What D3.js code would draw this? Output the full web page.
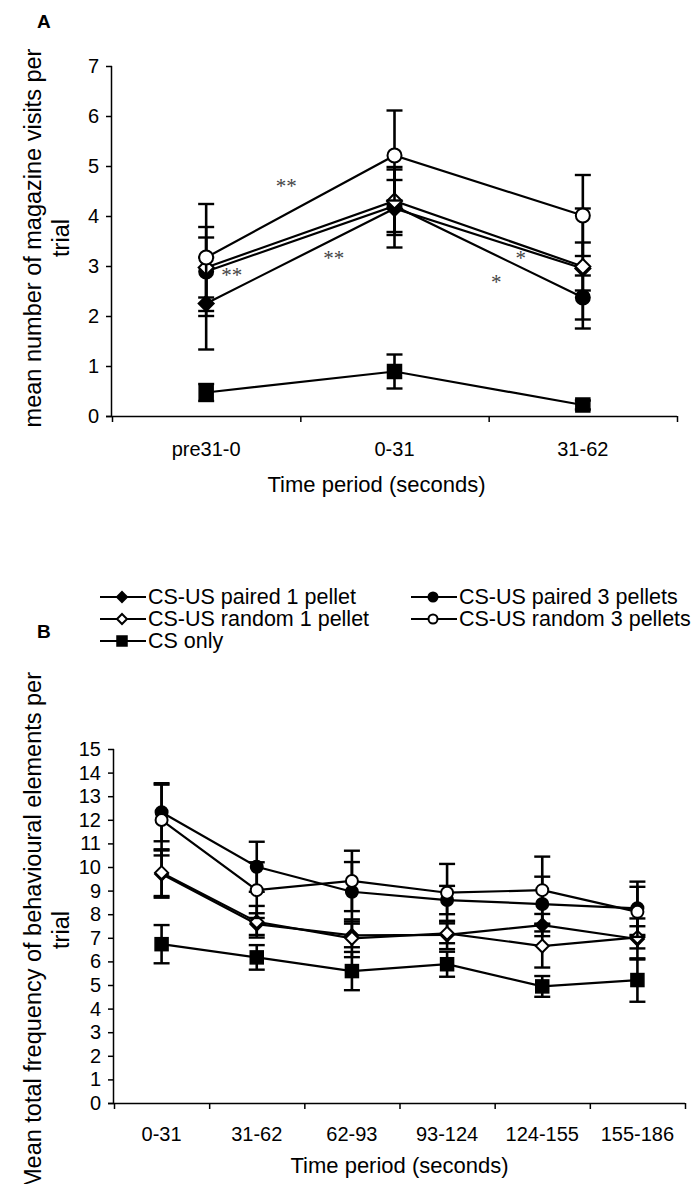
<!DOCTYPE html>
<html>
<head>
<meta charset="utf-8">
<script src="https://cdn.jsdelivr.net/npm/d3@7"></script>
<style>
  body { margin: 0; background: #fff; }
  svg { display: block; }
  text { font-family: "Liberation Sans", Arial, sans-serif; fill: #000; }
</style>
</head>
<body>
<svg id="fig" width="693" height="1184"></svg>
<script>
// ---- Data -------------------------------------------------------------
const seriesNames = [
  "CS-US paired 1 pellet",
  "CS-US paired 3 pellets",
  "CS-US random 1 pellet",
  "CS-US random 3 pellets",
  "CS only"
];

// Panel A: magazine visits per trial
const periodsA = ["pre31-0", "0-31", "31-62"];
const ticksA = [0, 1, 2, 3, 4, 5, 6, 7];
const pairedOneA   = [2.25, 4.15, 2.95];
const pairedOneSemA   = [0.92, 0.78, 1.20];
const pairedThreeA = [2.89, 4.20, 2.37];
const pairedThreeSemA = [0.89, 0.52, 0.44];
const randomOneA   = [2.97, 4.30, 2.99];
const randomOneSemA   = [0.60, 0.68, 0.48];
const randomThreeA = [3.17, 5.21, 4.01];
const randomThreeSemA = [1.07, 0.90, 0.81];
const csOnlyA      = [0.47, 0.89, 0.22];
const csOnlySemA      = [0.17, 0.34, 0.09];

// Significance marks: [position along the period axis (index), value, text]
const starsA = [
  [0.425, 4.65, "**"],
  [0.136, 2.87, "**"],
  [0.678, 3.20, "**"],
  [1.67, 3.20, "*"],
  [1.54, 2.72, "*"]
];

// Panel B: behavioural elements per trial
const periodsB = ["0-31", "31-62", "62-93", "93-124", "124-155", "155-186"];
const ticksB = d3.range(0, 16);
const pairedOneB   = [9.70, 7.58, 7.10, 7.12, 7.54, 6.95];
const pairedOneSemB   = [1.00, 0.46, 0.50, 0.60, 0.47, 0.87];
const pairedThreeB = [12.32, 10.01, 8.95, 8.60, 8.43, 8.25];
const pairedThreeSemB = [1.23, 1.06, 1.26, 0.60, 1.16, 1.13];
const randomOneB   = [9.76, 7.68, 6.98, 7.19, 6.65, 7.02];
const randomOneSemB   = [0.99, 0.67, 0.80, 0.42, 0.91, 0.47];
const randomThreeB = [11.99, 9.02, 9.41, 8.91, 9.02, 8.10];
const randomThreeSemB = [1.50, 1.18, 1.28, 1.22, 1.42, 1.06];
const csOnlyB      = [6.73, 6.17, 5.59, 5.88, 4.94, 5.21];
const csOnlySemB      = [0.81, 0.52, 0.81, 0.53, 0.44, 0.92];

// ---- Styling of each series --------------------------------------------
const shapes = ["diamond", "circle", "diamond", "circle", "square"];
const fills  = ["#000", "#000", "#fff", "#fff", "#000"];

const svg = d3.select("#fig");

function drawMarker(g, shape, fill, cx, cy, size) {
  if (shape === "circle") {
    g.append("circle").attr("cx", cx).attr("cy", cy).attr("r", size)
      .attr("fill", fill).attr("stroke", "#000").attr("stroke-width", 2);
  } else if (shape === "square") {
    g.append("rect").attr("x", cx - size).attr("y", cy - size)
      .attr("width", size * 2).attr("height", size * 2)
      .attr("fill", fill).attr("stroke", "#000").attr("stroke-width", 1.5);
  } else {
    const s = size + 0.5;
    g.append("path")
      .attr("d", `M${cx},${cy - s}L${cx + s},${cy}L${cx},${cy + s}L${cx - s},${cy}Z`)
      .attr("fill", fill).attr("stroke", "#000").attr("stroke-width", 2);
  }
}

function drawPanel(cfg) {
  const g = svg.append("g");
  const x = d3.scaleBand().domain(cfg.periods).range([cfg.left, cfg.right]).padding(0);
  const xEdges = d3.scaleLinear().domain([0, cfg.periods.length]).range([cfg.left, cfg.right]);
  const y = d3.scaleLinear().domain([0, d3.max(cfg.ticks)]).range([cfg.bottom, cfg.top]);
  const cx = p => x(p) + x.bandwidth() / 2;

  // y axis
  const yAxis = g.append("g").attr("transform", `translate(${cfg.left},0)`)
    .call(d3.axisLeft(y).tickValues(cfg.ticks).tickSize(6).tickPadding(7).tickFormat(d3.format("d")));
  yAxis.select(".domain").attr("stroke-width", 1.5).attr("d", `M-0.5,${cfg.top}V${cfg.bottom}`);
  yAxis.selectAll(".tick line").attr("stroke-width", 1.5);
  yAxis.selectAll(".tick text").style("font-size", cfg.tickFont + "px")
    .style("font-family", '"Liberation Sans", Arial, sans-serif');

  // x axis: tick marks on the category boundaries, labels at centres
  const xAxis = g.append("g").attr("transform", `translate(0,${cfg.bottom})`)
    .call(d3.axisBottom(xEdges).tickValues(d3.range(0, cfg.periods.length + 1)).tickSize(6).tickFormat(""));
  xAxis.select(".domain").attr("stroke-width", 1.5).attr("d", `M${cfg.left - 6},0.5H${cfg.right}`);
  xAxis.selectAll(".tick line").attr("stroke-width", 1.5);
  g.append("g").selectAll("text").data(cfg.periods).join("text")
    .attr("x", d => cx(d)).attr("y", cfg.bottom + cfg.labelGap)
    .attr("text-anchor", "middle").style("font-size", cfg.tickFont + "px").text(d => d);

  // axis titles
  g.append("text").attr("x", (cfg.left + cfg.right) / 2 + cfg.xTitleShift).attr("y", cfg.bottom + cfg.xTitleGap)
    .attr("text-anchor", "middle").style("font-size", cfg.xTitleFont + "px").text("Time period (seconds)");
  const midY = (cfg.top + cfg.bottom) / 2 + cfg.yTitleShift;
  cfg.yTitle.forEach((line, i) => {
    g.append("text")
      .attr("transform", `translate(${cfg.yTitleX[i]},${midY}) rotate(-90)`)
      .attr("text-anchor", "middle").attr("dominant-baseline", "central")
      .style("font-size", cfg.yTitleFont + "px").text(line);
  });

  // series: error bars, line, markers
  cfg.series.forEach((s, si) => {
    const sg = g.append("g");
    s.values.forEach((v, i) => {
      const px = cx(cfg.periods[i]);
      const hi = y(v + s.sem[i]), lo = y(v - s.sem[i]);
      sg.append("line").attr("x1", px).attr("x2", px).attr("y1", hi).attr("y2", lo)
        .attr("stroke", "#000").attr("stroke-width", 2.6);
      [hi, lo].forEach(yy => sg.append("line")
        .attr("x1", px - cfg.cap).attr("x2", px + cfg.cap).attr("y1", yy).attr("y2", yy)
        .attr("stroke", "#000").attr("stroke-width", 2.4));
    });
    const line = d3.line().x((d, i) => cx(cfg.periods[i])).y(d => y(d));
    sg.append("path").datum(s.values).attr("d", line)
      .attr("fill", "none").attr("stroke", "#000").attr("stroke-width", 2.2);
    s.values.forEach((v, i) => {
      drawMarker(sg, shapes[si], fills[si], cx(cfg.periods[i]), y(v),
        shapes[si] === "square" ? cfg.square : cfg.marker);
    });
  });

  // significance marks
  if (cfg.stars) {
    cfg.stars.forEach(([pos, v, txt]) => {
      g.append("text").attr("x", xEdges(pos + 0.5)).attr("y", y(v) + 9)
        .attr("text-anchor", "middle")
        .style("font-family", '"Liberation Serif", "Times New Roman", serif')
        .style("font-size", "21px").style("fill", "#444").text(txt);
    });
  }
  return g;
}

// Panel A
drawPanel({
  periods: periodsA, ticks: ticksA,
  left: 112, right: 677, top: 66, bottom: 416,
  tickFont: 20, xTitleFont: 22, yTitleFont: 23.5, labelGap: 40, xTitleGap: 76, xTitleShift: -18,
  yTitle: ["mean number of magazine visits per", "trial"], yTitleX: [33, 61], yTitleShift: -3,
  cap: 8, marker: 7, square: 7, stars: starsA,
  series: [
    { values: pairedOneA, sem: pairedOneSemA },
    { values: pairedThreeA, sem: pairedThreeSemA },
    { values: randomOneA, sem: randomOneSemA },
    { values: randomThreeA, sem: randomThreeSemA },
    { values: csOnlyA, sem: csOnlySemA }
  ]
});

// Panel B
drawPanel({
  periods: periodsB, ticks: ticksB,
  left: 114, right: 685, top: 749, bottom: 1103,
  tickFont: 20, xTitleFont: 22, yTitleFont: 23.5, labelGap: 38, xTitleGap: 70, xTitleShift: 0,
  yTitle: ["Mean total frequency of behavioural elements per", "trial"], yTitleX: [33, 61], yTitleShift: 4,
  cap: 8, marker: 6, square: 6.5,
  series: [
    { values: pairedOneB, sem: pairedOneSemB },
    { values: pairedThreeB, sem: pairedThreeSemB },
    { values: randomOneB, sem: randomOneSemB },
    { values: randomThreeB, sem: randomThreeSemB },
    { values: csOnlyB, sem: csOnlySemB }
  ]
});

// Panel letters
svg.append("text").attr("x", 37).attr("y", 28).style("font-size", "19px").style("font-weight", "bold").text("A");
svg.append("text").attr("x", 37).attr("y", 638).style("font-size", "19px").style("font-weight", "bold").text("B");

// Legend
const legendPos = [[100, 597], [411, 597], [100, 619], [411, 619], [100, 641]];
const legend = svg.append("g");
seriesNames.forEach((name, i) => {
  const [lx, ly] = legendPos[i];
  legend.append("line").attr("x1", lx).attr("x2", lx + 46).attr("y1", ly).attr("y2", ly)
    .attr("stroke", "#000").attr("stroke-width", 2);
  drawMarker(legend, shapes[i], fills[i], lx + 22, ly, shapes[i] === "square" ? 5 : 4.5);
  legend.append("text").attr("x", lx + 48).attr("y", ly).attr("dominant-baseline", "central")
    .style("font-size", "21.5px").text(name);
});
</script>
</body>
</html>
